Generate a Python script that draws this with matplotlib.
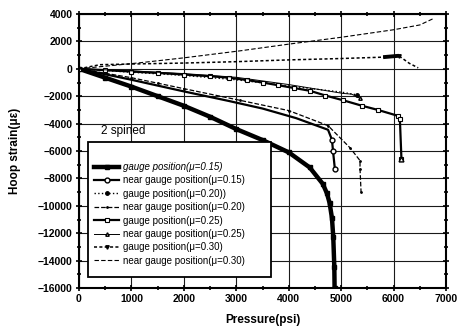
import matplotlib
matplotlib.use("Agg")
import matplotlib.pyplot as plt
from matplotlib.patches import Rectangle
from matplotlib.ticker import MultipleLocator

plt.rcParams['font.family'] = ['Liberation Sans', 'DejaVu Sans']

# ---- data ----
p_g15 = [0, 500, 1000, 1500, 2000, 2500, 3000, 3500, 4000, 4400, 4650, 4730, 4780, 4825, 4850, 4870, 4875]
s_g15 = [0, -650, -1300, -2000, -2700, -3500, -4400, -5200, -6100, -7200, -8400, -9100, -9800, -10900, -12300, -14500, -16000]

p_n15 = [0, 1000, 2000, 2860, 3500, 4140, 4750, 4825, 4845, 4880]
s_n15 = [0, -800, -1650, -2350, -2900, -3600, -4450, -5180, -6000, -7300]

p_g20 = [0, 1000, 2000, 3000, 4000, 5000, 5300]
s_g20 = [0, -250, -480, -800, -1250, -1700, -1900]

p_n20 = [0, 1000, 1500, 2000, 3070, 4000, 4750, 5170, 5360, 5360, 5380]
s_n20 = [0, -650, -1050, -1450, -2300, -3050, -4150, -5770, -6700, -7300, -9000]

p_g25 = [0, 500, 1000, 1500, 2000, 2500, 2860, 3200, 3500, 3800, 4100, 4400, 4700, 5040, 5400, 5700, 6080, 6120, 6150]
s_g25 = [0, -100, -200, -300, -420, -540, -650, -820, -1000, -1200, -1400, -1600, -1950, -2300, -2700, -3000, -3430, -3650, -6570]

p_n25 = [0, 1000, 2000, 3000, 4000, 5040, 5200, 5360]
s_n25 = [0, -150, -350, -620, -1150, -1800, -1850, -2150]

p_g30 = [0, 400, 1000, 2000, 3000, 4000, 5000, 5800, 6100, 6300, 6470]
s_g30 = [0, 300, 350, 420, 520, 650, 750, 850, 950, 400, 70]

p_n30 = [0, 1160, 2000, 3070, 4000, 5000, 6000, 6500, 6750]
s_n30 = [0, 440, 800, 1310, 1800, 2300, 2850, 3200, 3650]

labels = ['gauge position(\u03bc=0.15)', 'near gauge position(\u03bc=0.15)',
          'gauge position(\u03bc=0.20))', 'near gauge position(\u03bc=0.20)',
          'gauge position(\u03bc=0.25)', 'near gauge position(\u03bc=0.25)',
          'gauge position(\u03bc=0.30)', 'near gauge position(\u03bc=0.30)']

xticks = [0, 1000, 2000, 3000, 4000, 5000, 6000, 7000]
yticks = [-16000, -14000, -12000, -10000, -8000, -6000, -4000, -2000, 0, 2000, 4000]

fig = plt.figure(figsize=(4.58, 3.34), dpi=100)
ax = fig.add_axes([79/458, 1-288/334, (446-79)/458, (288-14)/334])

ax.set_xlim(0, 7000)
ax.set_ylim(-16000, 4000)
ax.set_xticks(xticks)
ax.set_yticks(yticks)
ax.xaxis.set_minor_locator(MultipleLocator(500))
ax.yaxis.set_minor_locator(MultipleLocator(1000))
ax.grid(True, which='major', color='0.1', lw=0.8)
ax.set_axisbelow(True)

k = 'black'
h = []
h += ax.plot(p_g15, s_g15, '-', color=k, lw=3.2, marker='s', ms=3, mfc=k, label=labels[0])
h += ax.plot(p_n15, s_n15, '-', color=k, lw=1.6, marker='o', ms=3.5, mfc='white', mew=1,
             markevery=[7, 8, 9], label=labels[1])
h += ax.plot(p_g20, s_g20, ':', color=k, lw=1.0, marker='o', ms=2.5, mfc=k, markevery=[6], label=labels[2])
h += ax.plot(p_n20, s_n20, '--', color=k, lw=0.9, marker='.', ms=2, label=labels[3])
h += ax.plot(p_g25, s_g25, '-', color=k, lw=1.6, marker='s', ms=2.8, mfc='white', mew=0.8, label=labels[4])
ax.plot(p_g25[-1:], s_g25[-1:], '^', color=k, ms=3.5, mfc='white')
h += ax.plot(p_n25, s_n25, '-', color=k, lw=0.7, marker='^', ms=2.5, mfc='white', markevery=[7], label=labels[5])
h += ax.plot(p_g30, s_g30, '--', color=k, lw=1.1, dashes=(2, 1.5), marker='v', ms=2.5, mfc=k,
             markevery=[8], label=labels[6])
ax.plot(p_g30[7:9], s_g30[7:9], '-', color=k, lw=2.8, solid_capstyle='butt')
h += ax.plot(p_n30, s_n30, '--', color=k, lw=0.8, dashes=(4, 2), label=labels[7])

for s in ax.spines.values():
    s.set_linewidth(1.5)
ax.tick_params(which='both', direction='inout', width=1.2, labelsize=7.5, top=True, right=True,
               pad=2)
ax.tick_params(which='major', length=5)
ax.tick_params(which='minor', length=3)
for lab in ax.get_xticklabels() + ax.get_yticklabels():
    lab.set_fontweight('bold')

ax.set_xlabel('Pressure(psi)', fontsize=8.5, fontweight='bold', labelpad=7)
ax.set_ylabel('Hoop strain(\u03bc\u03b5)', fontsize=8.5, fontweight='bold', labelpad=12)

# legend frame and legend
ax.add_patch(Rectangle((9/367, 11/274), (271-88)/367, (277-142)/274, transform=ax.transAxes,
                       facecolor='white', edgecolor='black', lw=1.3, zorder=5))
leg = ax.legend(handles=h, loc='upper left', bbox_to_anchor=(13/367, (288-160)/274 + 0.0),
                frameon=False, fontsize=7, handlelength=2.6, handletextpad=0.4,
                labelspacing=0.35, borderpad=0.2, borderaxespad=0)
leg.set_zorder(6)
leg.get_texts()[0].set_fontstyle('italic')
ax.text(22/367, (288-131)/274, '2 spined', transform=ax.transAxes, fontsize=8.5,
        va='center', ha='left', zorder=6)

fig.savefig('out.png', dpi=100)
